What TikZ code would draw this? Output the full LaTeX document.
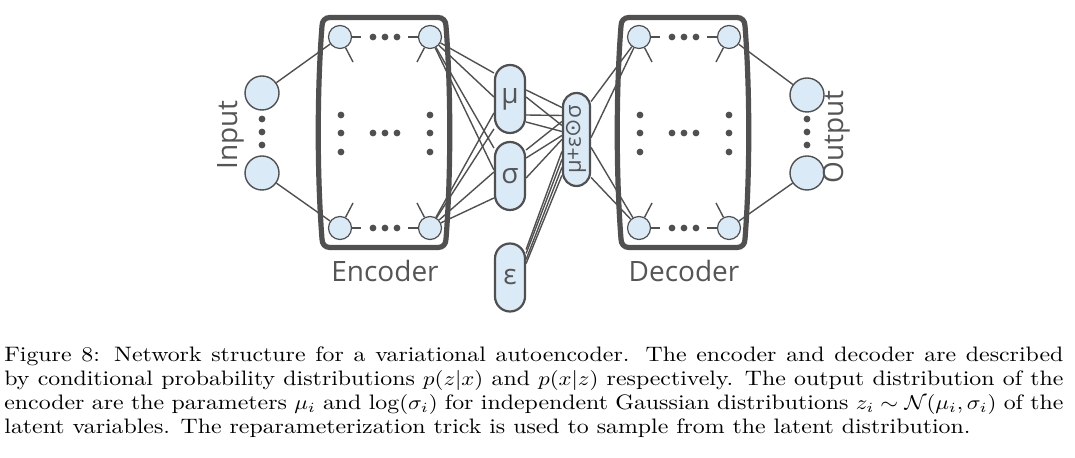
\documentclass[tikz,border=0pt]{standalone}
\usepackage{amsmath}
\usepackage{graphicx}
\usepackage{fontspec}
\usepackage{tikz}
\newfontfamily\diafont{Open Sans}
\newfontfamily\symfont{DejaVu Sans}
\definecolor{cellfill}{RGB}{219,234,247}
\definecolor{linegray}{RGB}{80,80,80}
\definecolor{textgray}{RGB}{85,85,85}

\begin{document}
\begin{tikzpicture}[x=0.5pt,y=-0.5pt,
  wire/.style={draw=linegray,line width=0.7pt},
  rowlink/.style={draw=linegray,line width=1.3pt},
  neuron/.style={circle,draw=linegray,fill=cellfill,line width=0.6pt,minimum size=11.5pt,inner sep=0pt},
  ionode/.style={circle,draw=linegray,fill=cellfill,line width=0.7pt,minimum size=17pt,inner sep=0pt},
  capsule/.style={draw=linegray,fill=cellfill,line width=1.1pt,rounded corners=7.5pt,minimum width=15pt,minimum height=34pt,inner sep=0pt,text=textgray,font=\diafont\fontsize{14}{14}\selectfont},
  layerbox/.style={draw=linegray,line width=2.6pt},
  sidetext/.style={text=textgray,font=\diafont\fontsize{14}{14}\selectfont}]
  \useasboundingbox (0,0) rectangle (1075,458);

  \foreach \dx/\nm/\txt in {0/enc/Encoder,299/dec/Decoder}{
    \begin{scope}[xshift=\dx*0.5pt]
      \draw[layerbox] (330,17.5) -- (438,17.5) .. controls (443,17.5) and (446,21) .. (446,26)
        .. controls (451,90) and (451,175) .. (446,239)
        .. controls (446,244) and (443,247.5) .. (438,247.5) -- (330,247.5)
        .. controls (325,247.5) and (322,244) .. (322,239)
        .. controls (317,175) and (317,90) .. (322,26)
        .. controls (322,21) and (325,17.5) .. (330,17.5) -- cycle;

      \coordinate (\nm h1) at (361,37);
      \coordinate (\nm h2) at (408,37);
      \coordinate (\nm h3) at (361,228);
      \coordinate (\nm h4) at (408,228);
      \coordinate (\nm s1) at (353,62);
      \coordinate (\nm s2) at (417,62);
      \coordinate (\nm s3) at (353,203);
      \coordinate (\nm s4) at (417,203);

      \node[neuron] (\nm11) at (340,37) {};
      \node[neuron] (\nm12) at (430,37) {};
      \node[neuron] (\nm21) at (340,228) {};
      \node[neuron] (\nm22) at (430,228) {};

      \draw[rowlink] (\nm11) -- (\nm h1);
      \draw[rowlink] (\nm h2) -- (\nm12);
      \draw[rowlink] (\nm21) -- (\nm h3);
      \draw[rowlink] (\nm h4) -- (\nm22);
      \draw[wire] (\nm11) -- (\nm s1);
      \draw[wire] (\nm12) -- (\nm s2);
      \draw[wire] (\nm21) -- (\nm s3);
      \draw[wire] (\nm22) -- (\nm s4);

      \foreach \x in {373,385,397}
        \foreach \y in {37,133,228}
          \fill[linegray] (\x,\y) circle (1.7pt);
      \foreach \y in {115,133,152}{
        \fill[linegray] (341,\y) circle (1.7pt);
        \fill[linegray] (430,\y) circle (1.7pt);
      }

      \node[sidetext] (\nm lbl) at (385,271) {\txt};
    \end{scope}
  }

  \node[ionode] (in1) at (262,93) {};
  \node[ionode] (in2) at (262,173) {};
  \node[ionode] (out1) at (807,95) {};
  \node[ionode] (out2) at (807,173) {};
  \foreach \y in {119,132,145}{
    \fill[linegray] (262,\y) circle (1.7pt);
    \fill[linegray] (807,\y) circle (1.7pt);
  }
  \node[sidetext,rotate=90] (intxt) at (231,135) {Input};
  \node[sidetext,rotate=90] (outtxt) at (837,137) {Output};

  \node[capsule] (mu) at (510,99) {μ};
  \node[capsule] (sigma) at (510,176) {σ};
  \node[capsule] (eps) at (510,277.5) {ε};
  \node[capsule,minimum width=13.5pt,minimum height=46.5pt,rounded corners=6.75pt,font=\diafont\fontsize{11}{11}\selectfont] (z) at (576.5,139.5) {\rotatebox{90}{μ+ε{\symfont ⊙}σ}};

  \draw[wire] (in1) -- (enc11);
  \draw[wire] (in2) -- (enc21);
  \draw[wire] (dec12) -- (out1);
  \draw[wire] (dec22) -- (out2);

  \draw[wire] (enc12) -- ([yshift=13pt]mu.west);
  \draw[wire] (enc12) -- ([yshift=1pt]mu.west);
  \draw[wire] (enc12) -- ([yshift=14pt]sigma.west);
  \draw[wire] (enc12) -- ([yshift=3pt]sigma.west);
  \draw[wire] (enc22) -- ([yshift=-7pt]mu.west);
  \draw[wire] (enc22) -- ([yshift=-15pt]mu.west);
  \draw[wire] (enc22) -- ([yshift=2pt]sigma.west);
  \draw[wire] (enc22) -- ([yshift=-11pt]sigma.west);

  \draw[wire] ([yshift=4.5pt]mu.east) -- ([yshift=16pt]z.west);
  \draw[wire] ([yshift=-8pt]mu.east) -- ([yshift=12pt]z.west);
  \draw[wire] ([yshift=1pt]mu.east) -- ([yshift=7pt]z.west);
  \draw[wire] ([yshift=-11.5pt]mu.east) -- ([yshift=4pt]z.west);
  \draw[wire] ([yshift=13pt]sigma.east) -- ([yshift=9pt]z.west);
  \draw[wire] ([yshift=9pt]sigma.east) -- ([yshift=2pt]z.west);
  \draw[wire] ([yshift=-1pt]sigma.east) -- ([yshift=0pt]z.west);

  \draw[wire] ([yshift=14pt]eps.east) -- ([yshift=-6pt]z.west);
  \draw[wire] ([yshift=12pt]eps.east) -- ([yshift=-10pt]z.west);
  \draw[wire] ([yshift=9pt]eps.east) -- ([yshift=-14pt]z.west);
  \draw[wire] ([yshift=7pt]eps.east) -- ([yshift=-18pt]z.west);

  \draw[wire] ([yshift=19pt]z.east) -- (dec11);
  \draw[wire] ([yshift=1pt]z.east) -- (dec11);
  \draw[wire] ([yshift=-4pt]z.east) -- (dec21);
  \draw[wire] ([yshift=-19pt]z.east) -- (dec21);

  \node[anchor=north west,inner sep=0pt] (caption) at (4,346.5)
    {\scalebox{1.14}[1]{\parbox{464.5pt}{\fontsize{10.45}{12}\selectfont
    Figure 8: Network structure for a variational autoencoder.  The encoder and decoder are described\linebreak
    by conditional probability distributions $p(z|x)$ and $p(x|z)$ respectively.  The output distribution of the\linebreak
    encoder are the parameters $\mu_i$ and $\log(\sigma_i)$ for independent Gaussian distributions $z_i \sim \mathcal{N}(\mu_i,\sigma_i)$ of the\linebreak
    latent variables. The reparameterization trick is used to sample from the latent distribution.}}};
\end{tikzpicture}
\end{document}
